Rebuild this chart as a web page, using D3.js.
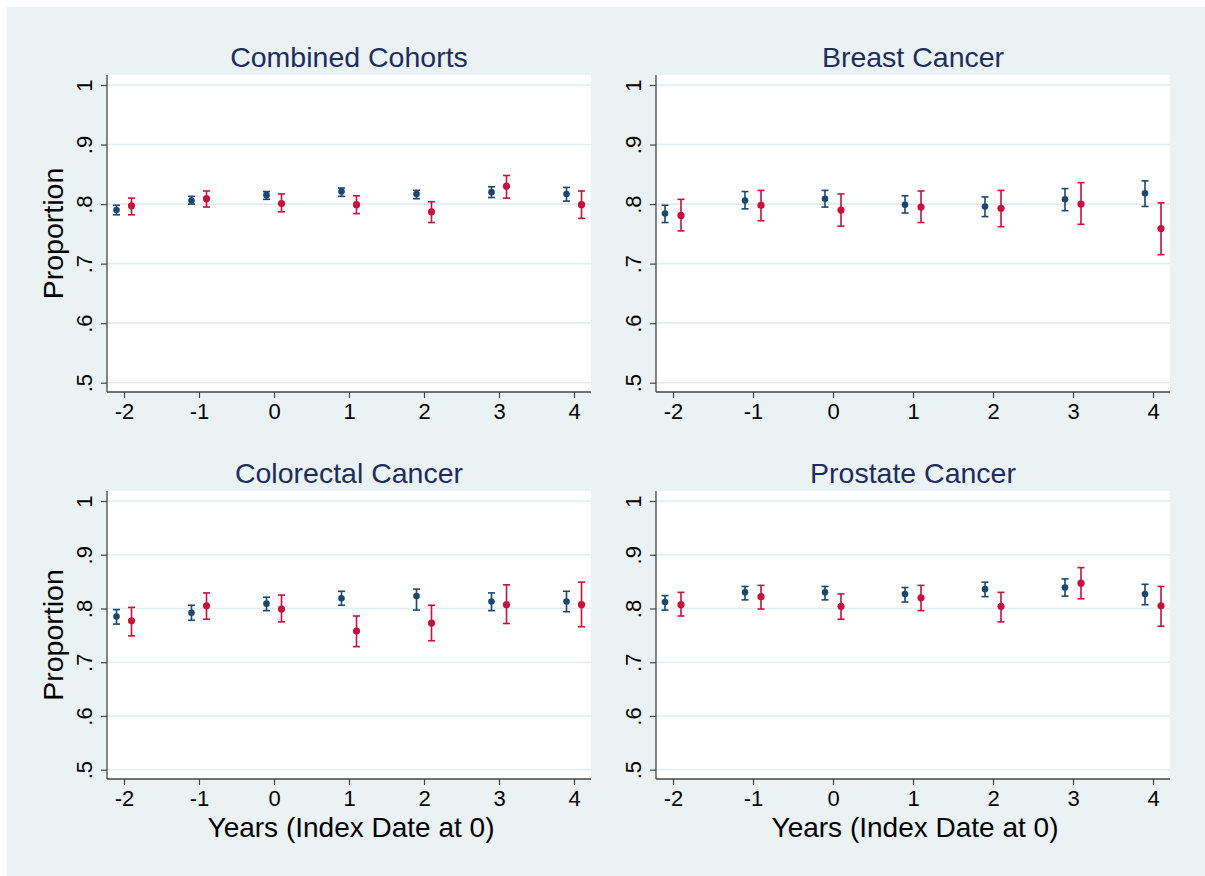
<!DOCTYPE html>
<html>
<head>
<meta charset="utf-8">
<script src="https://cdn.jsdelivr.net/npm/d3@7"></script>
<style>
  html, body { margin: 0; padding: 0; background: #ffffff; }
  svg { display: block; font-family: "Liberation Sans", Arial, sans-serif; }
</style>
</head>
<body>
<svg id="chart" width="1205" height="876"></svg>
<script>
// Years relative to the index date
const years = [-2, -1, 0, 1, 2, 3, 4];
const yTicks = [0.5, 0.6, 0.7, 0.8, 0.9, 1];
const panelTitles = ["Combined Cohorts", "Breast Cancer", "Colorectal Cancer", "Prostate Cancer"];

// Combined cohorts
const combinedA   = [0.790, 0.806, 0.815, 0.821, 0.817, 0.820, 0.817];
const combinedALo = [0.782, 0.800, 0.808, 0.813, 0.809, 0.811, 0.805];
const combinedAHi = [0.798, 0.813, 0.821, 0.827, 0.823, 0.829, 0.828];
const combinedB   = [0.797, 0.809, 0.801, 0.799, 0.787, 0.830, 0.799];
const combinedBLo = [0.782, 0.795, 0.787, 0.784, 0.769, 0.810, 0.776];
const combinedBHi = [0.810, 0.822, 0.817, 0.814, 0.804, 0.848, 0.822];

// Breast cancer
const breastA   = [0.784, 0.806, 0.809, 0.799, 0.796, 0.808, 0.818];
const breastALo = [0.769, 0.792, 0.795, 0.785, 0.779, 0.789, 0.796];
const breastAHi = [0.798, 0.821, 0.823, 0.814, 0.812, 0.826, 0.839];
const breastB   = [0.781, 0.798, 0.790, 0.795, 0.793, 0.800, 0.759];
const breastBLo = [0.755, 0.772, 0.763, 0.769, 0.762, 0.766, 0.715];
const breastBHi = [0.808, 0.823, 0.817, 0.822, 0.823, 0.836, 0.802];

// Colorectal cancer
const colorectalA   = [0.785, 0.792, 0.809, 0.819, 0.823, 0.813, 0.813];
const colorectalALo = [0.771, 0.778, 0.796, 0.806, 0.797, 0.796, 0.794];
const colorectalAHi = [0.798, 0.806, 0.821, 0.832, 0.836, 0.829, 0.832];
const colorectalB   = [0.777, 0.805, 0.799, 0.758, 0.773, 0.807, 0.807];
const colorectalBLo = [0.749, 0.780, 0.775, 0.729, 0.740, 0.772, 0.766];
const colorectalBHi = [0.802, 0.829, 0.825, 0.786, 0.806, 0.844, 0.849];

// Prostate cancer
const prostateA   = [0.812, 0.830, 0.830, 0.827, 0.836, 0.839, 0.827];
const prostateALo = [0.797, 0.816, 0.816, 0.812, 0.822, 0.823, 0.807];
const prostateAHi = [0.824, 0.841, 0.841, 0.839, 0.849, 0.855, 0.845];
const prostateB   = [0.807, 0.822, 0.804, 0.820, 0.804, 0.847, 0.805];
const prostateBLo = [0.786, 0.799, 0.780, 0.796, 0.775, 0.818, 0.767];
const prostateBHi = [0.830, 0.843, 0.827, 0.843, 0.830, 0.876, 0.841];

const panelData = [
  { a: [combinedA, combinedALo, combinedAHi],     b: [combinedB, combinedBLo, combinedBHi] },
  { a: [breastA, breastALo, breastAHi],           b: [breastB, breastBLo, breastBHi] },
  { a: [colorectalA, colorectalALo, colorectalAHi], b: [colorectalB, colorectalBLo, colorectalBHi] },
  { a: [prostateA, prostateALo, prostateAHi],     b: [prostateB, prostateBLo, prostateBHi] }
];

const colorA = "#1a476f";
const colorB = "#c8103c";
const bgColor = "#eaf2f3";
const offset = 0.1;

const svg = d3.select("#chart");
svg.append("rect").attr("x", 7).attr("y", 7).attr("width", 1198).attr("height", 869).attr("fill", bgColor);

// Plot-region boxes for the 2x2 grid
const boxes = [
  { left: 107, right: 591, top: 75, bottom: 392, yTitle: true, xTitle: false },
  { left: 656, right: 1170, top: 75, bottom: 392, yTitle: false, xTitle: false },
  { left: 107, right: 591, top: 491, bottom: 779, yTitle: true, xTitle: true },
  { left: 656, right: 1170, top: 491, bottom: 779, yTitle: false, xTitle: true }
];

const fmt = v => (v === 1 ? "1" : d3.format(".1f")(v).replace(/^0/, ""));

boxes.forEach((bx, i) => {
  const g = svg.append("g");
  const x = d3.scaleLinear().domain([-2, 4]).range([bx.left + 17, bx.right - 17]);
  const y = d3.scaleLinear().domain([0.5, 1]).range([bx.bottom - 9.3, bx.top + 10]);

  g.append("rect")
    .attr("x", bx.left).attr("y", bx.top)
    .attr("width", bx.right - bx.left).attr("height", bx.bottom - bx.top)
    .attr("fill", "#ffffff");

  // horizontal grid
  g.selectAll(".grid").data(yTicks).join("line")
    .attr("x1", bx.left).attr("x2", bx.right)
    .attr("y1", d => y(d)).attr("y2", d => y(d))
    .attr("stroke", "#e3edef").attr("stroke-width", 1.6);

  // y axis
  const yAxis = g.append("g").attr("transform", `translate(${bx.left},0)`)
    .call(d3.axisLeft(y).tickValues(yTicks).tickFormat(fmt).tickSize(6).tickSizeOuter(0));
  yAxis.select(".domain").remove();
  yAxis.selectAll(".tick line").attr("stroke", "#444").attr("stroke-width", 1.2);
  yAxis.selectAll(".tick text")
    .attr("x", null).attr("dy", null)
    .attr("transform", "translate(-15,0) rotate(-90)")
    .attr("text-anchor", "middle")
    .attr("fill", "#000")
    .style("font-size", "22px")
    .style("font-family", "'Liberation Sans', Arial, sans-serif");

  // x axis
  const xAxis = g.append("g").attr("transform", `translate(0,${bx.bottom})`)
    .call(d3.axisBottom(x).tickValues(years).tickFormat(d3.format("d")).tickSize(6).tickSizeOuter(0));
  xAxis.select(".domain").remove();
  xAxis.selectAll(".tick line").attr("stroke", "#444").attr("stroke-width", 1.2);
  xAxis.selectAll(".tick text")
    .attr("y", 27).attr("dy", null)
    .attr("fill", "#000")
    .style("font-size", "22px")
    .style("font-family", "'Liberation Sans', Arial, sans-serif")
    .text(d => d < 0 ? "-" + Math.abs(d) : String(d));

  // axis lines
  g.append("line").attr("x1", bx.left).attr("x2", bx.left).attr("y1", bx.top).attr("y2", bx.bottom)
    .attr("stroke", "#444").attr("stroke-width", 1.3);
  g.append("line").attr("x1", bx.left).attr("x2", bx.right).attr("y1", bx.bottom).attr("y2", bx.bottom)
    .attr("stroke", "#444").attr("stroke-width", 1.3);

  // panel title
  g.append("text")
    .attr("x", (bx.left + bx.right) / 2).attr("y", bx.top - 8)
    .attr("text-anchor", "middle")
    .attr("fill", "#1f2d5c")
    .style("font-size", "28.5px")
    .text(panelTitles[i]);

  if (bx.yTitle) {
    g.append("text")
      .attr("transform", `translate(63,${(bx.top + bx.bottom) / 2}) rotate(-90)`)
      .attr("text-anchor", "middle")
      .attr("fill", "#000")
      .style("font-size", "28.5px")
      .text("Proportion");
  }
  if (bx.xTitle) {
    g.append("text")
      .attr("x", (bx.left + bx.right) / 2 + 2).attr("y", bx.bottom + 58)
      .attr("text-anchor", "middle")
      .attr("fill", "#000")
      .style("font-size", "28px")
      .text("Years (Index Date at 0)");
  }

  // error bars with caps and points
  const drawSeries = (vals, color, dx, r) => {
    const [est, lo, hi] = vals;
    const pts = years.map((yr, k) => ({ yr, est: est[k], lo: lo[k], hi: hi[k] }));
    const s = g.append("g");
    const cap = 3.5;
    s.selectAll(".bar").data(pts).join("line")
      .attr("x1", d => x(d.yr + dx)).attr("x2", d => x(d.yr + dx))
      .attr("y1", d => y(d.lo)).attr("y2", d => y(d.hi))
      .attr("stroke", color).attr("stroke-width", 1.6);
    s.selectAll(".capLo").data(pts).join("line")
      .attr("x1", d => x(d.yr + dx) - cap).attr("x2", d => x(d.yr + dx) + cap)
      .attr("y1", d => y(d.lo)).attr("y2", d => y(d.lo))
      .attr("stroke", color).attr("stroke-width", 1.6);
    s.selectAll(".capHi").data(pts).join("line")
      .attr("x1", d => x(d.yr + dx) - cap).attr("x2", d => x(d.yr + dx) + cap)
      .attr("y1", d => y(d.hi)).attr("y2", d => y(d.hi))
      .attr("stroke", color).attr("stroke-width", 1.6);
    s.selectAll("circle").data(pts).join("circle")
      .attr("cx", d => x(d.yr + dx)).attr("cy", d => y(d.est))
      .attr("r", r).attr("fill", color);
  };
  drawSeries(panelData[i].a, colorA, -offset, 3.3);
  drawSeries(panelData[i].b, colorB, offset, 3.6);
});
</script>
</body>
</html>
